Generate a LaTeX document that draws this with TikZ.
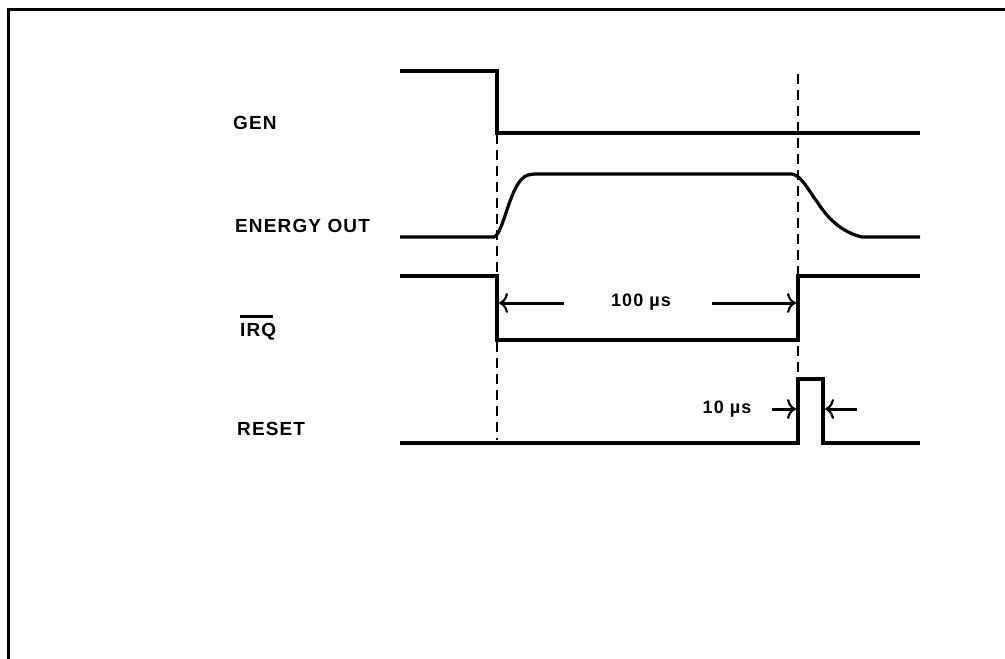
\documentclass[tikz,border=0pt]{standalone}
\usepackage{fontspec}
\setmainfont{Liberation Sans}[LetterSpace=6]
\usetikzlibrary{arrows.meta}
\begin{document}
\begin{tikzpicture}[x=1pt,y=-1pt,
  sig/.style={line width=3.2pt,line join=miter},
  guide/.style={line width=2.5pt,dash pattern=on 10pt off 6pt},
  dim/.style={line width=3pt,-{To[length=9pt,width=20pt,line width=2.2pt]}},
  lbl/.style={font=\fontsize{19}{22}\selectfont\bfseries,inner sep=0pt,anchor=base west},
  dimlbl/.style={font=\fontsize{18}{22}\selectfont\bfseries,inner sep=0pt,anchor=base}]
\useasboundingbox (0,0) rectangle (1005,659);
% frame (top and left edges visible)
\draw[line width=3pt] (8,659) -- (8,9) -- (1005,9);
% labels
\node[lbl] (gen) at (233,129) {GEN};
\node[lbl] (eout) at (235,232) {ENERGY OUT};
\node[lbl] (irq) at (240,336) {IRQ};
\node[lbl] (reset) at (237,435) {RESET};
\draw[line width=2.2pt] ([yshift=6pt]irq.north west) -- ([yshift=6pt,xshift=-3pt]irq.north east);
% guides
\draw[guide] (497,134) -- (497,440);
\draw[guide] (798,74) -- (798,372);
% GEN
\draw[sig] (400,71) -- (497,71) -- (497,133) -- (920,133);
% ENERGY OUT
\draw[sig] (400,237) -- (494,237) .. controls (504,234) and (510,180) .. (528,175)
  -- (534,174) -- (792,174) .. controls (802,176) and (808,190) .. (818,203)
  .. controls (830,222) and (845,233) .. (862,237) -- (920,237);
% IRQ
\draw[sig] (400,276) -- (497,276) -- (497,340) -- (798,340) -- (798,276) -- (920,276);
% RESET
\draw[sig] (400,443) -- (798,443) -- (798,379) -- (823,379) -- (823,443) -- (920,443);
% 100 us
\coordinate (a1) at (564,303);
\coordinate (a1t) at (499,303);
\coordinate (a2) at (712,303);
\coordinate (a2t) at (796,303);
\draw[dim] (a1) -- (a1t);
\draw[dim] (a2) -- (a2t);
\node[dimlbl] (l100) at (641,306) {100 µs};
% 10 us
\coordinate (b1) at (772,409);
\coordinate (b1t) at (796,409);
\coordinate (b2) at (857,409);
\coordinate (b2t) at (825,409);
\draw[dim] (b1) -- (b1t);
\draw[dim] (b2) -- (b2t);
\node[dimlbl] (l10) at (727,413) {10 µs};
\end{tikzpicture}
\end{document}
